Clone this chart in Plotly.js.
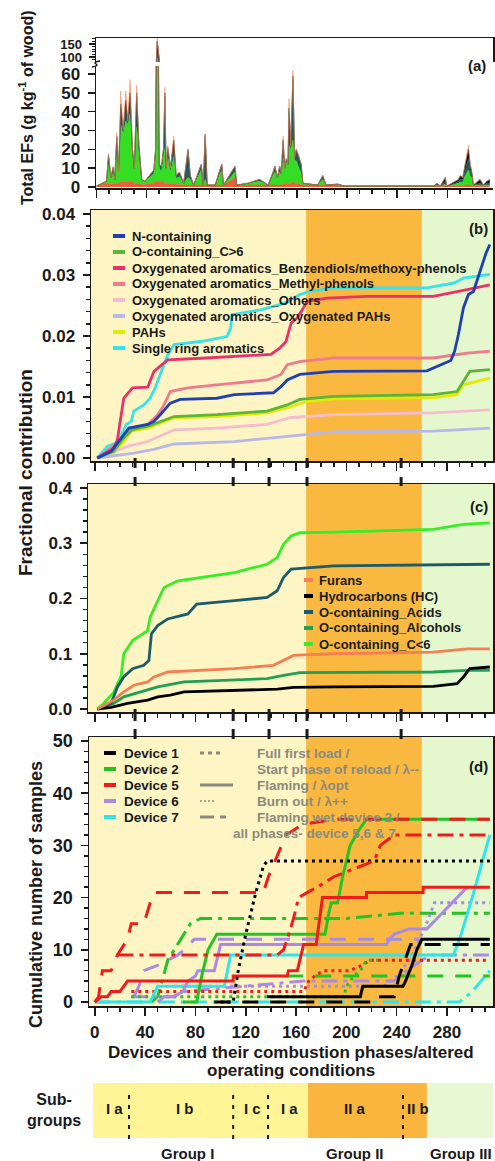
<!DOCTYPE html>
<html><head><meta charset="utf-8">
<script src="https://cdn.plot.ly/plotly-3.0.1.min.js"></script>
<style>html,body{margin:0;padding:0;background:#fff}#chart{width:495px;height:1161px}</style>
</head><body><div id="chart"></div>
<script>
// ================= DATA =================
// Panel (a): stacked total EFs (g kg-1 of wood) per sample position
const efX = [0, 4.8, 7.9, 9.5, 11.4, 13.2, 14.5, 16.1, 17.5, 19.3,
  21.2, 23.3, 24.9, 26.7, 28.6, 30.1, 32.0, 33.8, 36.0, 38.6,
  41.8, 45.7, 47.1, 48.4, 50.0, 51.8, 53.4, 54.5, 55.5, 56.8,
  59.0, 61.6, 63.5, 66.1, 69.5, 73.0, 74.8, 77.5, 83.6, 85.1,
  86.7, 88.3, 94.7, 99.9, 101.3, 110.5, 111.8, 121, 130, 137,
  141, 142.3, 144.4, 146.2, 147.5, 148.9, 150.2, 151.5, 152.8, 153.6,
  155, 156.8, 158.1, 159.4, 161.6, 163.4, 164.7, 176.6, 180.6, 183.2,
  192.5, 197.8, 269, 271.8, 274.5, 278.4, 279.7, 286.4, 289, 290.3,
  292.4, 294.3, 296.9, 298.3, 299.6, 300.9, 306.2, 308.8, 311.5, 314];
const efBase = [.5, 1.5, 2, 2, 2, 2, 2, 2, 2, 3,
  3, 3, 3, 3, 3, 2, 2, 2, 1.5, 1.5,
  2, 2, 3, 3, 3, 3, 3, 2, 2, 2,
  2, 2, 1.5, 1.5, 1, 1, 1, 1, 1, 1,
  1, 1, 1, 1, 1, 5, 1, 1, 1, 1,
  1, 1, 1, 1, 1, 2, 2, 2, 2, 2,
  2, 3, 2, 2, 2, 1, 1, 1, 1, 1,
  1, .5, .5, .5, .5, .5, .5, .5, .5, .5,
  .5, 1, 1, 1, 1, .5, .5, .5, .5, .5];
const efGreen = [0, .5, 1, 10, 3, 6, 2, 16, 6, 30,
  25, 32, 30, 36, 15, 7, 30, 14, 2.5, 1.5,
  3, 5, 14, 93, 7, 5, 14, 18, 6, 14,
  6, 14, 3, 4, 1, 4, 3, 0, 8, 0,
  3, 0, 0, 8, 0, 3, 0, 1, 2, 0,
  6, 7, 4, 7, 6, 14, 8, 11, 10, 20,
  18, 22, 12, 12, 8, 6, 1, 0, 3, 0,
  .5, 0, 0, .5, 0, 1, 0, 1, 1.5, 2,
  2, 5, 8, 5, 4, .5, .5, .5, .5, .5];
const efTeal = [0, 0, 0, 4, 0, 2, 0, 8, 0, 9,
  2, 9, 2, 9, 2, 1, 16, 5, 0, 0,
  1, 2, 3, 62, 2, 2, 3, 28, 2, 4,
  2, 8, 1.5, 2, 0, 14, 2, 0, 3, 0,
  23, 0, 0, 3, 0, 2, 0, 0, 1, 0,
  1, 3, 0, 3, 0, 8, 0, 2, 0, 18,
  2, 32, 1, 5, 5, 4, 0, 0, 2, 0,
  0, 0, 0, .5, 0, 1.5, 0, .5, 1, 1.5,
  1.5, 3, 6, 3, 2, 0, 1, 0, 1, 1];
const efBlack = [0, 0, 0, 1, 0, .5, 0, 1, 0, 2,
  0, 2, 0, 2, 0, 0, 2, 1, 0, 0,
  0, 0, 0, 3, 0, 1, 0, 2, 0, 1,
  0, 1, 0, .5, 0, 1, 0, 0, 0, 0,
  1, 0, 0, 0, 0, 1, 0, 0, 0, 0,
  0, 0, 0, 0, 0, 1, 0, 0, 0, 2,
  0, 2, 0, 1, 1, 1, 0, 0, 0, 0,
  0, 0, 0, .5, 0, 2, 0, 1, 1, 2,
  1, 3, 5, 3, 1, 0, 2, 0, 1, 2];
const efOrange = [0, 0, 0, 1, 0, .5, 0, 2, 0, 7,
  0, 5, 0, 7, 0, 0, 4, 0, 0, 0,
  0, 0, 0, 11, 0, 0, 0, 3, 0, 1,
  0, 2, 0, 0, 0, 0, 0, 0, 0, 0,
  0, 0, 0, 0, 0, 0, 0, 0, 0, 0,
  0, 0, 0, 0, 0, 2, 0, 0, 0, 5,
  0, 3, 0, 0, 0, 0, 0, 0, 0, 0,
  0, 0, 0, 0, 0, 0, 0, 0, 0, 0,
  0, 0, 2, 0, 0, 0, 0, 0, 0, 0];

// Panel (b): cumulative fractional contribution
const nContX = [2, 13, 23, 27, 42, 47, 52, 60, 68, 97, 111, 142, 148, 153, 163, 190, 264, 272, 283, 286, 289, 293, 297, 301, 306, 311, 314];
const nContY = [0, .0011, .0038, .0049, .0055, .006, .0071, .009, .0096, .0098, .0104, .0107, .0117, .0128, .0137, .0142, .0143, .0150, .0160, .0175, .0202, .0246, .0268, .0273, .0306, .0336, .0350];
const oC6pX = [2, 15, 23, 29, 42, 52, 63, 97, 137, 153, 163, 190, 269, 288, 293, 298, 314];
const oC6pY = [0, .0011, .0033, .0046, .0052, .006, .0068, .0071, .0077, .0087, .0096, .0101, .0104, .0109, .0126, .0142, .0145];
const benzX = [2, 15, 18, 23, 30, 42, 47, 52, 58, 89, 111, 140, 147, 152, 156, 161, 169, 185, 216, 269, 296, 314];
const benzY = [0, .0016, .003, .0098, .0115, .0116, .0142, .015, .0161, .0164, .0167, .017, .018, .0191, .0221, .023, .0257, .0262, .0265, .0265, .0276, .0284];
const methX = [2, 23, 31, 42, 50, 55, 60, 74, 97, 137, 148, 153, 163, 190, 269, 296, 314];
const methY = [0, .0033, .0049, .0055, .0071, .0087, .0109, .0115, .012, .0128, .0137, .0153, .0158, .0164, .0164, .0172, .0175];
const othX = [2, 26, 42, 52, 63, 97, 137, 155, 190, 269, 314];
const othY = [0, .0019, .0027, .0036, .0046, .0049, .0055, .0066, .0071, .0074, .0079];
const oxPahX = [2, 31, 47, 63, 111, 142, 163, 190, 269, 314];
const oxPahY = [0, .0008, .0014, .0023, .0027, .0033, .0038, .0043, .0044, .0049];
const pahX = [2, 15, 23, 29, 42, 52, 63, 97, 137, 153, 169, 190, 269, 288, 293, 314];
const pahY = [0, .0008, .0027, .0044, .0049, .0057, .0066, .0068, .0074, .0082, .0093, .0097, .0099, .0104, .012, .0131];
const ringX = [2, 10, 17, 21, 25, 29, 31, 39, 44, 48, 52, 58, 63, 84, 105, 108, 109, 132, 151, 163, 171, 190, 264, 286, 293, 314];
const ringY = [0, .0019, .0025, .0038, .0055, .006, .0077, .0087, .0098, .0115, .0137, .0169, .0186, .0191, .0199, .0213, .0235, .0243, .0254, .0268, .0273, .0279, .0279, .0287, .0295, .0301];
const seriesB = [
  {name: 'N-containing', x: nContX, y: nContY, color: '#1f3fb5'},
  {name: 'O-containing_C>6', x: oC6pX, y: oC6pY, color: '#5cb536'},
  {name: 'Oxygenated aromatics_Benzendiols/methoxy-phenols', x: benzX, y: benzY, color: '#e6336a'},
  {name: 'Oxygenated aromatics_Methyl-phenols', x: methX, y: methY, color: '#ef7b8e'},
  {name: 'Oxygenated aromatics_Others', x: othX, y: othY, color: '#f6bccd'},
  {name: 'Oxygenated aromatics_Oxygenated PAHs', x: oxPahX, y: oxPahY, color: '#b8b8e8'},
  {name: 'PAHs', x: pahX, y: pahY, color: '#e3ec00'},
  {name: 'Single ring aromatics', x: ringX, y: ringY, color: '#35e3e8'}
];

// Panel (c)
const furX = [2, 15, 23, 31, 42, 47, 58, 84, 111, 142, 150, 158, 190, 269, 296, 314];
const furY = [0, .016, .031, .043, .049, .058, .067, .07, .073, .079, .088, .097, .1, .103, .109, .109];
const hcX = [2, 13, 26, 42, 50, 60, 71, 111, 145, 158, 190, 269, 288, 293, 298, 314];
const hcY = [0, .003, .01, .016, .022, .025, .031, .033, .036, .039, .04, .041, .046, .058, .073, .076];
const acidX = [2, 13, 18, 23, 30, 39, 43, 45, 50, 58, 74, 81, 111, 137, 145, 150, 156, 190, 314];
const acidY = [0, .01, .04, .058, .073, .079, .088, .136, .151, .163, .172, .19, .196, .202, .214, .238, .253, .259, .262];
const alcX = [2, 15, 23, 36, 50, 71, 111, 137, 150, 163, 269, 296, 314];
const alcY = [0, .01, .022, .031, .04, .049, .052, .055, .061, .066, .067, .07, .07];
const oC6mX = [2, 7, 15, 21, 23, 30, 42, 44, 50, 55, 66, 84, 111, 137, 145, 150, 156, 163, 190, 269, 293, 314];
const oC6mY = [0, .01, .03, .06, .10, .124, .142, .166, .196, .22, .232, .238, .247, .262, .274, .298, .313, .319, .32, .325, .334, .337];
const seriesC = [
  {name: 'Furans', x: furX, y: furY, color: '#f47f52'},
  {name: 'Hydrocarbons (HC)', x: hcX, y: hcY, color: '#000000'},
  {name: 'O-containing_Acids', x: acidX, y: acidY, color: '#1d5b6b'},
  {name: 'O-containing_Alcohols', x: alcX, y: alcY, color: '#21a055'},
  {name: 'O-containing_C<6', x: oC6mX, y: oC6mY, color: '#35ee25'}
];

// Panel (d): cumulative number of samples (device, condition)
const dev1DashX = [95, 223, 225, 238, 242, 251, 314];        const dev1DashY = [0, 0, 1, 1, 5, 11, 11];
const dev1SolidX = [137, 211, 213, 245, 247, 252, 256, 260, 314]; const dev1SolidY = [1, 1, 3, 3, 4, 7, 10, 12, 12];
const dev1DotX = [100, 110, 114, 120, 128, 134, 137, 314];   const dev1DotY = [0, 0, 6, 13, 21, 26, 27, 27];
const dev2DashX = [153, 314];                                 const dev2DashY = [5, 5];
const dev2SolidX = [70, 81, 85, 90, 97, 183, 186, 188, 193, 197, 203, 210, 216, 314];
const dev2SolidY = [0, 0, 5, 10, 13, 13, 17, 19, 19, 24, 30, 33, 35, 35];
const dev2DotX = [29, 198, 200, 206, 211, 216, 225];          const dev2DotY = [1, 1, 3, 5, 6, 8, 8];
const dev2WetX = [45, 50, 58, 66, 76, 84, 200, 243, 314];     const dev2WetY = [0, 1, 8, 11, 15, 16, 16, 17, 17];
const dev5DashX = [0, 3, 6, 13, 18, 26, 29, 39, 44, 48, 134, 138, 145, 152, 165, 190, 314];
const dev5DashY = [0, 1, 6, 6, 9, 12, 15, 15, 19, 21, 21, 24, 28, 32, 34, 35, 35];
const dev5SolidX = [0, 5, 10, 13, 20, 26, 110, 110, 153, 154, 161, 166, 176, 181, 216, 216, 261, 261, 314];
const dev5SolidY = [0, 1, 1, 2, 2, 4, 4, 5, 5, 6, 6, 11, 11, 20, 20, 21, 21, 22, 22];
const dev5DotX = [29, 166, 170, 175, 182, 203, 212, 219, 314]; const dev5DotY = [2, 2, 4, 5, 6, 6, 7, 8, 8];
const dev5AllX = [18, 145, 150, 153, 158, 162, 169, 177, 190, 211, 222, 227, 238, 314];
const dev5AllY = [9, 9, 10, 12, 16, 20, 21, 22, 24, 26, 27, 30, 32, 32];
const dev6DashX = [31, 35, 39, 50, 58, 66, 71, 79, 260];      const dev6DashY = [1, 3, 6, 7, 8, 9, 10, 12, 12];
const dev6SolidX = [50, 55, 62, 70, 74, 80, 82, 95, 100, 232, 234, 238, 250, 264, 272, 280, 288, 296];
const dev6SolidY = [0, 1, 1, 2, 4, 5, 6, 6, 11, 11, 12, 13, 14, 14, 16, 18, 20, 22];
const dev6DotX = [63, 230, 235, 240, 250, 262, 270, 314];     const dev6DotY = [3, 3, 4, 5, 8, 14, 19, 19];
const dev6AllX = [29, 63, 70, 166, 238, 248, 260, 267, 314];  const dev6AllY = [1, 1, 2, 4, 4, 6, 8, 9, 9];
const dev7SolidX = [0, 44, 50, 103, 108, 285, 290, 300, 314]; const dev7SolidY = [0, 0, 3, 3, 9, 9, 12, 20, 32];
const dev7AllX = [0, 290, 300, 314];                          const dev7AllY = [0, 0, 2, 6];

const deviceNames = ['Device 1', 'Device 2', 'Device 5', 'Device 6', 'Device 7'];
const deviceColors = ['#000000', '#22c322', '#ee1c1c', '#a98ae8', '#2ee6ea'];
const styleLabels = ['Full first load /', 'Start phase of reload / λ--', 'Flaming / λopt', 'Burn out / λ++', 'Flaming wet device 2 /', 'all phases- device 5,6 & 7'];

// Groups / boundaries (x units)
const phaseEdges = [168, 260];          // Group I | II | III shading in panels b-d
const barEdges = [-1.4, 169.5, 264];    // sub-group bar colour blocks
const subEdges = [27.2, 110, 137.7, 245];
const boundaryTicks = [32, 110, 138.5, 168.7, 243.5];
const subLabels = ['I a', 'I b', 'I c', 'I a', 'II a', 'II b'];
const subLabelX = [16, 71.7, 125.7, 155, 206.8, 257];
const groupLabels = ['Group I', 'Group II', 'Group III'];
const groupLabelX = [73.3, 206.8, 291.3];

// ================= LAYOUT HELPERS =================
const W = 495, H = 1161;
const fx = p => p / W;
const fy = p => 1 - p / H;
const X0 = 94.8, SC = 1.258;
const xl = p => (p - X0) / SC;
const XR = xl(493);
const FONT = 'Liberation Sans, Arial, Helvetica, sans-serif';
const INK = '#1a1a1a';
const bold = (s, c) => ({family: FONT, size: s, color: c || INK, weight: 'bold'});

function xax(leftPx, anchor, extra) {
  return Object.assign({
    domain: [fx(leftPx), fx(493)], range: [xl(leftPx), XR], anchor: anchor,
    showline: true, linecolor: INK, linewidth: 1.5, mirror: true,
    ticks: 'outside', ticklen: 8, tickwidth: 1.5, tickcolor: INK, tick0: 0, dtick: 40,
    minor: {dtick: 10, tick0: 0, ticks: 'outside', ticklen: 4, tickwidth: 1.5, tickcolor: INK},
    showticklabels: false, showgrid: false, zeroline: false, fixedrange: true
  }, extra || {});
}
function yax(topPx, botPx, range, anchor, extra) {
  return Object.assign({
    domain: [fy(botPx), fy(topPx)], range: range, anchor: anchor,
    showline: true, linecolor: INK, linewidth: 1.5, mirror: true,
    ticks: 'outside', ticklen: 7, tickwidth: 1.5, tickcolor: INK,
    tickfont: bold(17), ticklabelstandoff: 4,
    showgrid: false, zeroline: false, fixedrange: true
  }, extra || {});
}

// ================= TRACES =================
const traces = [];
const efParts = [
  {y: efBase, c: '#e9603f'}, {y: efGreen, c: '#35de22'}, {y: efTeal, c: '#1e5a60'},
  {y: efBlack, c: '#111111'}, {y: efOrange, c: '#f79462'}
];
[['x4', 'y4', 'lo'], ['x5', 'y5', 'hi']].forEach(([xa, ya, sg]) => {
  efParts.forEach(p => traces.push({
    type: 'scatter', mode: 'lines', x: efX, y: p.y, xaxis: xa, yaxis: ya,
    stackgroup: sg, line: {color: p.c, width: 0.6}, fillcolor: p.c, hoverinfo: 'skip'
  }));
});

seriesB.slice().reverse().forEach(s => traces.push({
  type: 'scatter', mode: 'lines', name: s.name, x: s.x, y: s.y, xaxis: 'x3', yaxis: 'y3',
  line: {color: s.color, width: 2.8}
}));
seriesC.slice().reverse().forEach(s => traces.push({
  type: 'scatter', mode: 'lines', name: s.name, x: s.x, y: s.y, xaxis: 'x2', yaxis: 'y2',
  line: {color: s.color, width: 2.8}
}));

const DASH = '16px,12px', DOT = '3px,4px', ALL = '16px,6px,4px,6px';
const devLines = [
  [dev7AllX, dev7AllY, 4, ALL], [dev2DashX, dev2DashY, 1, DASH], [dev2WetX, dev2WetY, 1, ALL],
  [dev6AllX, dev6AllY, 3, ALL], [dev6DotX, dev6DotY, 3, DOT], [dev6DashX, dev6DashY, 3, DASH],
  [dev5DotX, dev5DotY, 2, DOT], [dev2DotX, dev2DotY, 1, DOT],
  [dev7SolidX, dev7SolidY, 4, 'solid'], [dev6SolidX, dev6SolidY, 3, 'solid'],
  [dev1DashX, dev1DashY, 0, DASH], [dev1SolidX, dev1SolidY, 0, 'solid'],
  [dev2SolidX, dev2SolidY, 1, 'solid'], [dev5SolidX, dev5SolidY, 2, 'solid'],
  [dev1DotX, dev1DotY, 0, DOT], [dev5AllX, dev5AllY, 2, ALL], [dev5DashX, dev5DashY, 2, DASH]
];
devLines.forEach(([x, y, d, dash]) => traces.push({
  type: 'scatter', mode: 'lines', name: deviceNames[d], x: x, y: y, xaxis: 'x', yaxis: 'y',
  line: {color: deviceColors[d], width: 3, dash: dash}
}));

// ================= SHAPES =================
const shapes = [];
const bgCols = ['#fdf5c4', '#f9b940', '#e5f7cd'];
[['x3', 'y3', 91], ['x2', 'y2', 88], ['x', 'y', 89]].forEach(([xa, ya, lp]) => {
  const edges = [xl(lp), phaseEdges[0], phaseEdges[1], XR];
  for (let i = 0; i < 3; i++) shapes.push({type: 'rect', xref: xa, yref: ya + ' domain', x0: edges[i], x1: edges[i + 1], y0: 0, y1: 1, fillcolor: bgCols[i], line: {width: 0}, layer: 'below'});
});
// bottom sub-group bar
const barCols = ['#fff596', '#f9b53e', '#e7f8d3'];
const barE = barEdges.concat([XR]);
for (let i = 0; i < 3; i++) shapes.push({type: 'rect', xref: 'x', yref: 'paper', x0: barE[i], x1: barE[i + 1], y0: fy(1138), y1: fy(1083), fillcolor: barCols[i], line: {width: 0}, layer: 'below'});
subEdges.forEach(v => shapes.push({type: 'line', xref: 'x', yref: 'paper', x0: v, x1: v, y0: fy(1139), y1: fy(1093), line: {color: INK, width: 2, dash: '4px,6px'}}));
// thick boundary ticks between panels
[[458, 468], [477, 486], [709, 721], [729, 739]].forEach(([a, b]) => boundaryTicks.forEach(v =>
  shapes.push({type: 'line', xref: 'x', yref: 'paper', x0: v, x1: v, y0: fy(b), y1: fy(a), line: {color: INK, width: 3}})));
// axis break mark on panel (a)
shapes.push({type: 'path', xref: 'paper', yref: 'paper', path: `M ${fx(92)},${fy(67)} Q ${fx(99)},${fy(66)} ${fx(96)},${fy(64)} Q ${fx(93)},${fy(62)} ${fx(100)},${fy(61)}`, line: {color: INK, width: 1.5}});

// ================= ANNOTATIONS =================
const ann = [];
const txt = (text, xp, yp, font, opts) => ann.push(Object.assign({text: text, xref: 'paper', yref: 'paper', x: fx(xp), y: fy(yp), showarrow: false, font: font, xanchor: 'center', yanchor: 'middle'}, opts || {}));
txt('Total EFs (g kg<sup>-1</sup> of wood)', 26, 108, bold(16), {textangle: -90});
txt('Fractional contribution', 25, 473, bold(19), {textangle: -90});
txt('Cumulative number of samples', 36, 895, bold(18), {textangle: -90});
txt('Devices and their combustion phases/altered', 291, 1052, bold(17));
txt('operating conditions', 291, 1070, bold(17));
txt('(a)', 477, 65, bold(15)); txt('(b)', 478, 229, bold(15)); txt('(c)', 479, 507, bold(15)); txt('(d)', 478, 766, bold(15));

// legend (b)
seriesB.forEach((s, i) => {
  const yp = 236 + 16 * i;
  shapes.push({type: 'line', xref: 'paper', yref: 'paper', x0: fx(113), x1: fx(125), y0: fy(yp), y1: fy(yp), line: {color: s.color, width: 4}});
  txt(s.name, 130, yp, bold(13), {xanchor: 'left'});
});
// legend (c)
seriesC.forEach((s, i) => {
  const yp = 580 + 16 * i;
  shapes.push({type: 'line', xref: 'paper', yref: 'paper', x0: fx(304), x1: fx(313), y0: fy(yp), y1: fy(yp), line: {color: s.color, width: 4}});
  txt(s.name, 317, yp, bold(13), {xanchor: 'left'});
});
// legend (d) devices
deviceNames.forEach((n, i) => {
  const yp = 753 + 16 * i;
  shapes.push({type: 'line', xref: 'paper', yref: 'paper', x0: fx(104), x1: fx(116), y0: fy(yp), y1: fy(yp), line: {color: deviceColors[i], width: 4}});
  txt(n, 122, yp, bold(13.5), {xanchor: 'left'});
});
// legend (d) line styles
const GRAY = '#8c8a7e';
const styleRows = [[753, '4px,4px', 21], [785, 'solid', 33], [801, '2px,2px', 16], [817, '14px,6px,6px,6px', 27]];
styleRows.forEach(([yp, dash, len]) => shapes.push({type: 'line', xref: 'paper', yref: 'paper', x0: fx(200), x1: fx(200 + len), y0: fy(yp), y1: fy(yp), line: {color: GRAY, width: yp === 801 ? 1.5 : 3, dash: dash}}));
styleLabels.forEach((t, i) => txt(t, i === 5 ? 231 : 255, 753 + 16 * i, bold(13.5, GRAY), {xanchor: 'left'}));

// sub-group bar labels
txt('Sub-<br>groups', 54, 1110, bold(16));
subLabels.forEach((t, i) => ann.push({text: t, xref: 'x', yref: 'paper', x: subLabelX[i], y: fy(1108), showarrow: false, font: bold(15), xanchor: 'center', yanchor: 'middle'}));
groupLabels.forEach((t, i) => ann.push({text: t, xref: 'x', yref: 'paper', x: groupLabelX[i], y: fy(1153), showarrow: false, font: bold(15), xanchor: 'center', yanchor: 'middle'}));

// ================= LAYOUT =================
const layout = {
  width: W, height: H, margin: {l: 0, r: 0, t: 0, b: 0},
  paper_bgcolor: '#ffffff', plot_bgcolor: 'rgba(0,0,0,0)', showlegend: false,
  font: {family: FONT, color: INK},
  // panel (d)
  xaxis: xax(89, 'y', {showticklabels: true, tickfont: bold(17), ticklabelstandoff: 2}),
  yaxis: yax(737, 1006, [-0.77, 50.77], 'x', {dtick: 10, tick0: 0, tickfont: bold(18),
    minor: {dtick: 2, ticks: 'outside', ticklen: 4, tickwidth: 1.5, tickcolor: INK}}),
  // panel (c)
  xaxis2: xax(88, 'y2'),
  yaxis2: yax(484, 712, [-0.0054, 0.4072], 'x2', {dtick: 0.1, tick0: 0, tickformat: '.1f',
    minor: {dtick: 0.02, ticks: 'outside', ticklen: 4, tickwidth: 1.5, tickcolor: INK}}),
  // panel (b)
  xaxis3: xax(91, 'y3'),
  yaxis3: yax(210, 461, [-0.00049, 0.04066], 'x3', {dtick: 0.01, tick0: 0, tickformat: '.2f',
    minor: {dtick: 0.002, ticks: 'outside', ticklen: 4, tickwidth: 1.5, tickcolor: INK}}),
  // panel (a) lower
  xaxis4: xax(96, 'y4', {range: [-0.5, XR], mirror: false}),
  yaxis4: yax(66, 188, [-0.53, 64.26], 'x4', {mirror: false, tickvals: [0, 10, 20, 30, 40, 50, 60]}),
  // panel (a) upper (broken axis)
  xaxis5: xax(96, 'y5', {range: [-0.5, XR], side: 'top', mirror: false, ticks: '', minor: {ticks: ''}, matches: 'x4'}),
  yaxis5: yax(38, 62, [80.8, 173], 'x5', {tickvals: [100, 150], ticklen: 6, tickfont: bold(13),
    minor: {dtick: 10, tick0: 0, ticks: 'outside', ticklen: 3, tickwidth: 1, tickcolor: INK}}),
  shapes: shapes,
  annotations: ann
};

Plotly.newPlot('chart', traces, layout, {displayModeBar: false, staticPlot: true});
</script>
</body></html>
